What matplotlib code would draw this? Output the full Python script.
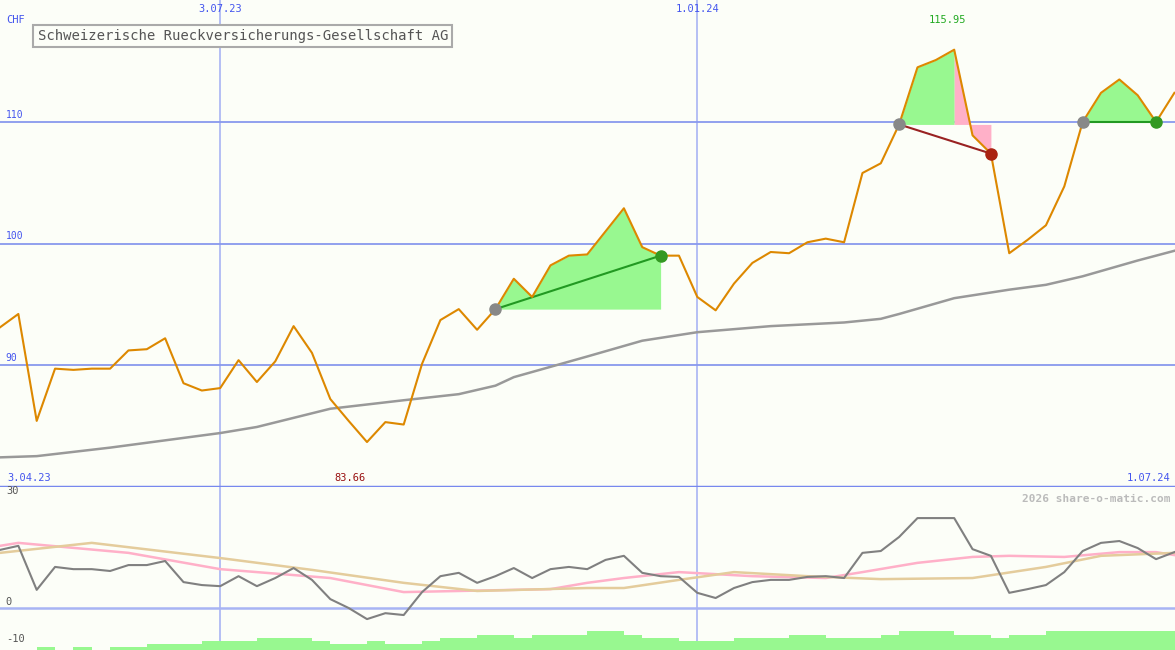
import matplotlib
matplotlib.use("Agg")
import matplotlib.pyplot as plt

price = [93.1, 94.2, 85.4, 89.7, 89.6, 89.7, 89.7, 91.2, 91.3, 92.2, 88.5, 87.9, 88.1, 90.4, 88.6,
         90.3, 93.2, 91.0, 87.2, 85.4, 83.66, 85.3, 85.1, 90.1, 93.7, 94.6, 92.9, 94.6, 97.1, 95.6,
         98.2, 99.0, 99.1, 101.0, 102.9, 99.7, 99.0, 99.0, 95.6, 94.5, 96.7, 98.4, 99.3, 99.2, 100.1,
         100.4, 100.1, 105.8, 106.6, 109.8, 114.5, 115.1, 115.95, 108.9, 107.4, 99.2, 100.3, 101.5,
         104.7, 110.0, 112.4, 113.5, 112.2, 110.0, 112.4]
ma_idx = [0, 2, 6, 12, 14, 18, 22, 25, 27, 28, 32, 35, 38, 42, 46, 48, 49, 52, 55, 57, 59, 62, 64]
ma_val = [82.4, 82.5, 83.2, 84.4, 84.9, 86.4, 87.1, 87.6, 88.3, 89.0, 90.7, 92.0, 92.7, 93.2, 93.5,
          93.8, 94.2, 95.5, 96.2, 96.6, 97.3, 98.6, 99.4]
mom = [15.7, 16.8, 4.9, 11.1, 10.5, 10.5, 10.0, 11.6, 11.6, 12.7, 7.0, 6.2, 5.9, 8.6, 5.9, 8.1, 10.8,
       7.6, 2.4, 0.0, -3.0, -1.4, -1.9, 4.3, 8.6, 9.5, 6.8, 8.6, 10.8, 8.1, 10.5, 11.1, 10.5, 13.0,
       14.1, 9.5, 8.6, 8.4, 4.1, 2.7, 5.4, 7.0, 7.6, 7.6, 8.4, 8.6, 8.1, 14.9, 15.4, 19.2, 24.3, 24.3,
       24.3, 15.9, 14.1, 4.1, 5.1, 6.2, 9.7, 15.4, 17.6, 18.1, 16.2, 13.2, 15.1]
pink_idx = [0, 1, 7, 12, 18, 22, 30, 32, 34, 37, 41, 45, 47, 50, 53, 55, 58, 61, 63, 64]
pink_val = [16.8, 17.6, 14.9, 10.5, 8.1, 4.3, 5.1, 6.8, 8.1, 9.7, 8.6, 8.1, 9.7, 12.2, 13.8, 14.1,
            13.8, 15.1, 15.1, 14.3]
tan_idx = [0, 5, 12, 17, 22, 26, 32, 34, 37, 40, 44, 48, 53, 57, 60, 64]
tan_val = [14.9, 17.6, 13.5, 10.3, 6.8, 4.6, 5.4, 5.4, 7.6, 9.7, 8.6, 7.8, 8.1, 11.1, 14.1, 14.9]
vol = [0, 0, 3, 0, 3, 0, 3, 3, 6, 6, 6, 9, 9, 9, 12, 12, 12, 9, 6, 6, 9, 6, 6, 9, 12, 12, 15, 15, 12,
       15, 15, 15, 19, 19, 15, 12, 12, 9, 9, 9, 12, 12, 12, 15, 15, 12, 12, 12, 15, 19, 19, 19, 15, 15,
       12, 15, 15, 19, 19, 19, 19, 19, 19, 19, 19]
# trades: (entry idx, exit idx, peak idx, win)
trades = [(27, 36, 36, True), (49, 54, 52, False), (59, 63, 63, True)]
date_idx = [12, 38]
date_lbl = ["3.07.23", "1.01.24"]
title = "Schweizerische Rueckversicherungs-Gesellschaft AG"

BG = "#fcfef8"
BLUE = "#8899ee"
fig = plt.figure(figsize=(11.75, 6.5), dpi=100, facecolor=BG)
ax = fig.add_axes([0, 163/650, 1, 487/650], facecolor=BG)
bx = fig.add_axes([0, 0, 1, 163/650], facecolor=BG)
x = list(range(len(price)))
XMAX = 1175/18.35
for a in (ax, bx):
    a.set_xlim(0, XMAX)
    a.axis("off")
    for d in date_idx:
        a.axvline(d, color="#a8b4f4", lw=1.2, zorder=1)
ax.set_ylim(79.96, 120.04)
for lv in (90, 100, 110):
    ax.axhline(lv, color=BLUE, lw=1.3, zorder=1)
    ax.text(0.005, lv + 0.2, str(lv), transform=ax.get_yaxis_transform(), color="#4455ee",
            fontsize=7, family="DejaVu Sans Mono", va="bottom")
ax.axhline(79.96, color="#7788ee", lw=2.5, zorder=5)

for e, xx, pk, win in trades:
    base = price[e]
    seg = x[e:xx + 1]
    ps = price[e:xx + 1]
    if win:
        ax.fill_between(seg, base, ps, where=[p >= base for p in ps], interpolate=True,
                        color="#98f890", lw=0, zorder=2)
    else:
        ax.fill_between(x[e:pk + 1], base, price[e:pk + 1], color="#98f890", lw=0, zorder=2)
        ax.fill_between(x[pk:xx + 1], base, price[pk:xx + 1], color="#ffb0c8", lw=0, zorder=2)
    col = "#229922" if win else "#992222"
    ax.plot([e, xx], [base, price[xx]], color=col, lw=1.5, zorder=4)
    ax.plot(e, base, "o", color="#888888", ms=8, zorder=6)
    ax.plot(xx, price[xx], "o", color="#339922" if win else "#aa2211", ms=8, zorder=6)

ax.plot(ma_idx, ma_val, color="#999999", lw=1.8, zorder=3)
ax.plot(x, price, color="#dd8800", lw=1.5, zorder=5)

tf = dict(fontsize=7.5, family="DejaVu Sans Mono")
for d, l in zip(date_idx, date_lbl):
    ax.text(d, 119.3, l, ha="center", va="center", color="#4455ee", **tf)
ax.text(0.005, 118.4, "CHF", color="#4455ee", va="center", transform=ax.get_yaxis_transform(), **tf)
pk = price.index(max(price))
ax.text(pk - 0.35, 118.4, f"{max(price):.2f}", ha="center", va="center", color="#22aa22", **tf)
mn = price.index(min(price))
ax.text(mn - 0.9, 80.7, f"{min(price):.2f}", ha="center", va="center", color="#991111", **tf)
ax.text(0.006, 80.7, "3.04.23", color="#4455ee", va="center", transform=ax.get_yaxis_transform(), **tf)
ax.text(0.996, 80.7, "1.07.24", color="#4455ee", va="center", ha="right",
        transform=ax.get_yaxis_transform(), **tf)
ax.text(0.032, 0.926, title, fontsize=10, family="DejaVu Sans Mono", color="#555555", va="center",
        transform=ax.transAxes,
        bbox=dict(boxstyle="square,pad=0.3", fc=BG, ec="#aaaaaa", lw=1.5), zorder=8)

bx.set_ylim(-11.35, 32.7)
bx.axhline(0, color="#a8b4f4", lw=1.8, zorder=1)
bx.bar([i + 0.5 for i in x], [v / 3.7 for v in vol], width=1.0, bottom=-11.35,
       color="#98f890", lw=0, zorder=2)
bx.plot(pink_idx, pink_val, color="#ffb0c8", lw=1.8, zorder=3)
bx.plot(tan_idx, tan_val, color="#e4cc9c", lw=1.8, zorder=3)
bx.plot(x, mom, color="#808080", lw=1.5, zorder=4)
for v in (30, 0, -10):
    bx.text(0.005, v + 1.5, str(v), transform=bx.get_yaxis_transform(), color="#555555",
            va="center", **tf)
bx.text(0.996, 29.5, "2026 share-o-matic.com", ha="right", va="center", color="#bbbbbb",
        transform=bx.get_yaxis_transform(), fontsize=8, family="DejaVu Sans Mono", weight="bold")
fig.savefig("out.png", dpi=100, facecolor=BG)
